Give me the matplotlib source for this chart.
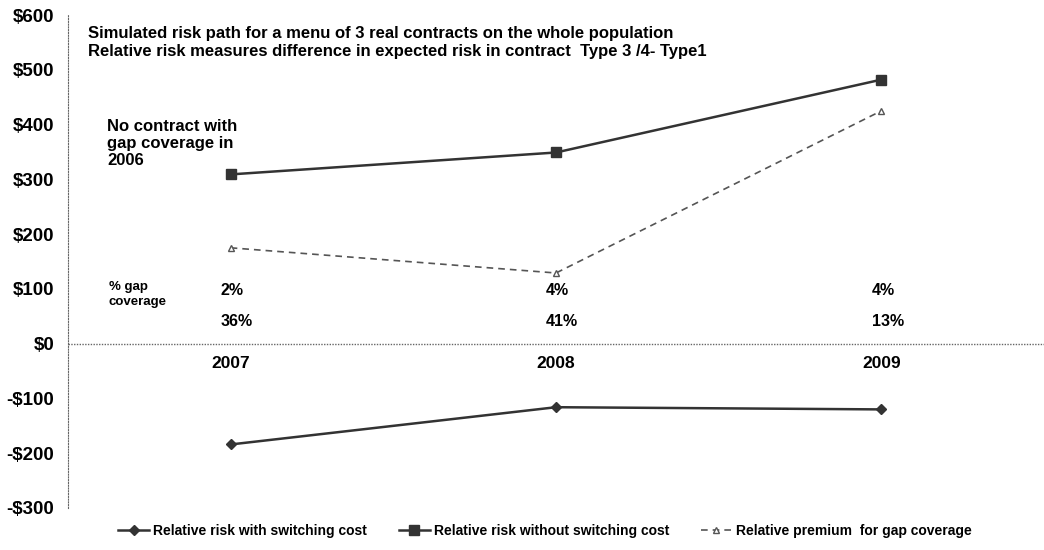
import matplotlib.pyplot as plt
import numpy as np

years = ["2007", "2008", "2009"]
with_switching = [-184, -116, -120]
without_switching = [309, 349, 482]
premium_gap = [175, 129, 425]
pct_top = ["2%", "4%", "4%"]
pct_bottom = ["36%", "41%", "13%"]
yticks = [600, 500, 400, 300, 200, 100, 0, -100, -200, -300]

plt.rcParams['font.family'] = ['Liberation Sans', 'DejaVu Sans']

fig = plt.figure(figsize=(10.44, 5.5), dpi=100)
ax = fig.add_axes([68 / 1044, 1 - 508 / 550, 1 - 68 / 1044, (508 - 15) / 550])

x = np.arange(len(years))
ax.plot(x, with_switching, color='#333333', lw=1.8, marker='D', ms=5,
        label='Relative risk with switching cost')
ax.plot(x, without_switching, color='#333333', lw=1.8, marker='s', ms=6.5,
        label='Relative risk without switching cost')
ax.plot(x, premium_gap, color='#555555', lw=1.2, ls=(0, (4, 3)), marker='^', ms=5,
        mfc='white', mec='#555555', label='Relative premium  for gap coverage')

ax.set_xlim(-0.5, 2.5)
ax.set_ylim(-300, 600)
ax.axhline(0, color='#666666', lw=1, ls=(0, (1, 1)))

ax.set_xticks([])
ax.set_yticks(yticks)
ax.set_yticklabels([f"${v}" if v >= 0 else f"-${-v}" for v in yticks],
                   fontsize=13.5, fontweight='bold')
ax.tick_params(axis='y', length=0, pad=10)
for s in ['top', 'right', 'bottom']:
    ax.spines[s].set_visible(False)
ax.spines['left'].set_color('#666666')
ax.spines['left'].set_linestyle((0, (1, 1.5)))

# year labels below the zero line
for i, yr in enumerate(years):
    ax.text(i, -22, yr, ha='center', va='top', fontsize=12.5, fontweight='bold')

# gap coverage shares
for i in range(len(years)):
    ax.text(i - 0.03, 97, pct_top[i], ha='left', va='center', fontsize=11.5, fontweight='bold')
    ax.text(i - 0.03, 40, pct_bottom[i], ha='left', va='center', fontsize=11.5, fontweight='bold')
ax.text(-0.375, 90, "% gap\ncoverage", ha='left', va='center', fontsize=9.5,
        fontweight='bold', linespacing=1.3)

ax.text(-0.44, 550, "Simulated risk path for a menu of 3 real contracts on the whole population\n"
        "Relative risk measures difference in expected risk in contract  Type 3 /4- Type1",
        ha='left', va='center', fontsize=12, fontweight='bold', linespacing=1.3)
ax.text(-0.38, 365, "No contract with\ngap coverage in\n2006", ha='left', va='center',
        fontsize=12, fontweight='bold', linespacing=1.15)

fig.legend(loc='lower center', bbox_to_anchor=(0.522, 0.0), ncol=3, frameon=False,
           handlelength=2.2, columnspacing=2.3, handletextpad=0.3,
           prop={'weight': 'bold', 'size': 10})

fig.savefig('out.png', dpi=100)
